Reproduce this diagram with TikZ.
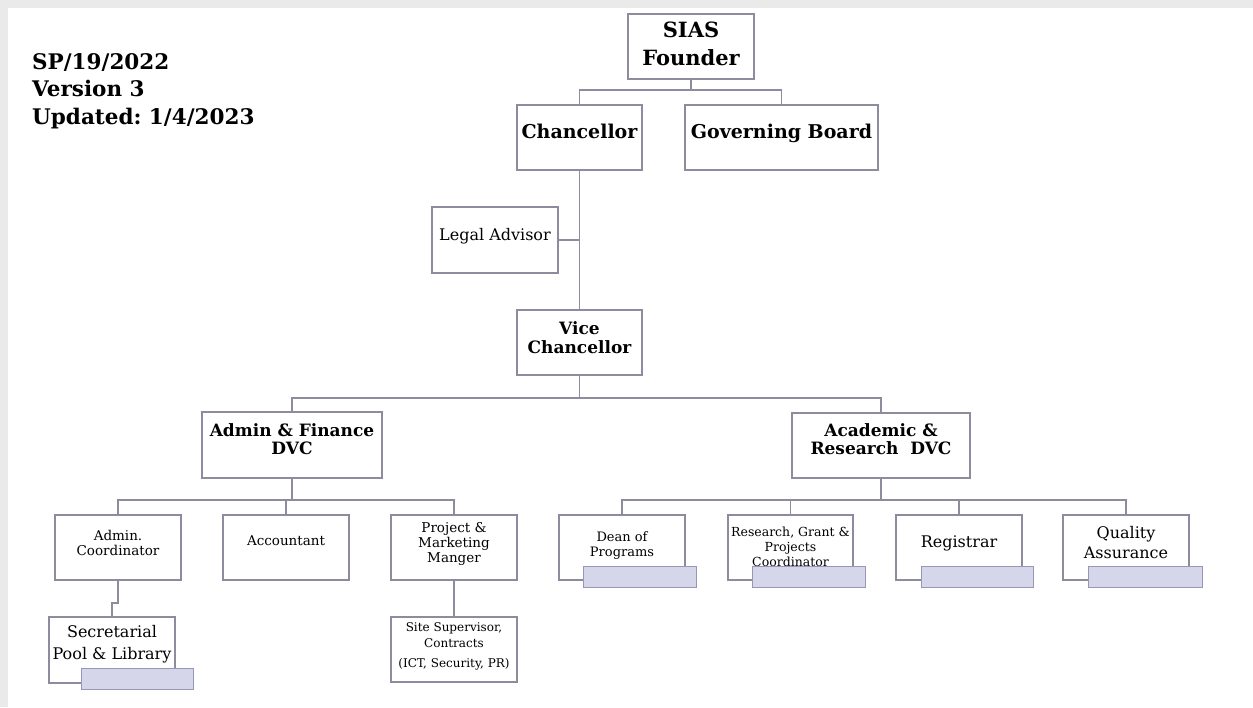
\documentclass[tikz,border=0pt]{standalone}
\usepackage{fontspec}
\setmainfont{DejaVu Serif}
\usetikzlibrary{calc}
\definecolor{boxc}{RGB}{140,140,158}
\definecolor{tabfill}{RGB}{214,214,234}
\definecolor{tabline}{RGB}{150,150,185}
\definecolor{bgshade}{RGB}{234,234,234}
\frenchspacing
\begin{document}
\begin{tikzpicture}[x=1pt,y=-1pt,
  box/.style={draw=boxc, line width=1.2pt, fill=white, inner sep=0pt, outer sep=0pt, minimum width=#1, minimum height=65pt},
  box/.default=126pt,
  tab/.style={draw=tabline, line width=1pt, fill=tabfill, inner sep=0pt, outer sep=0pt, minimum height=21pt, minimum width=#1},
  conn/.style={draw=boxc, line width=1.2pt},
  txt/.style={inner sep=0pt, outer sep=0pt, align=center, anchor=north, text=black}]
\useasboundingbox (0,0) rectangle (1253,707);
\fill[white] (0,0) rectangle (1253,707);
\fill[bgshade] (0,0) rectangle (1253,8);
\fill[bgshade] (0,0) rectangle (8,707);

% header
\node[inner sep=0pt, anchor=north west, align=left, font=\fontsize{21.5}{27.5}\selectfont\bfseries] (hdr) at (32,53) {SP/19/2022\\Version 3\\Updated: 1/4/2023};

% boxes
\node[box] (founder) at (691,46.5) {};
\node[box=125pt] (chanc) at (579.5,137.5) {};
\node[box=193pt] (board) at (781.5,137.5) {};
\node[box, minimum height=66pt] (legal) at (495,240) {};
\node[box=125pt] (vc) at (579.5,342.5) {};
\node[box=180pt, minimum height=66pt] (afdvc) at (292,445) {};
\node[box=178pt] (ardvc) at (881,445.5) {};
\node[box] (admco) at (118,547.5) {};
\node[box] (accnt) at (286,547.5) {};
\node[box] (pmm) at (454,547.5) {};
\node[box, minimum height=66pt] (secr) at (112,650) {};
\node[box] (site) at (454,649.5) {};
\node[box] (dean) at (622,547.5) {};
\node[box=125pt] (rgp) at (790.5,547.5) {};
\node[box] (reg) at (959,547.5) {};
\node[box] (qa) at (1126,547.5) {};

% texts
\node[txt, font=\fontsize{21}{28}\selectfont\bfseries] (tfounder) at ($(founder.north)+(0,8)$) {SIAS\\Founder};
\node[txt, font=\fontsize{19}{23}\selectfont\bfseries] (tchanc) at ($(chanc.north)+(0,19)$) {Chancellor};
\node[txt, font=\fontsize{19}{23}\selectfont\bfseries] (tboard) at ($(board.north)+(0,19)$) {Governing Board};
\node[txt, font=\fontsize{16}{20}\selectfont] (tlegal) at ($(legal.north)+(0,21)$) {Legal Advisor};
\node[txt, font=\fontsize{17}{19}\selectfont\bfseries] (tvc) at ($(vc.north)+(0,12)$) {Vice\\Chancellor};
\node[txt, font=\fontsize{17}{18}\selectfont\bfseries] (tafdvc) at ($(afdvc.north)+(0,12)$) {Admin \& Finance\\DVC};
\node[txt, font=\fontsize{17}{17.5}\selectfont\bfseries] (tardvc) at ($(ardvc.north)+(0,11)$) {Academic \&\\Research~~DVC};
\node[txt, font=\fontsize{13.5}{15}\selectfont] (tadmco) at ($(admco.north)+(0,15)$) {Admin.\\Coordinator};
\node[txt, font=\fontsize{13.5}{15}\selectfont] (taccnt) at ($(accnt.north)+(0,21)$) {Accountant};
\node[txt, font=\fontsize{13.5}{15}\selectfont] (tpmm) at ($(pmm.north)+(0,7)$) {Project \&\\Marketing\\Manger};
\node[txt, font=\fontsize{16}{22}\selectfont] (tsecr) at ($(secr.north)+(0,8)$) {Secretarial\\Pool \& Library};
\node[txt, font=\fontsize{12}{15.5}\selectfont] (tsite) at ($(site.north)+(0,6)$) {Site Supervisor,\\Contracts\\[5pt](ICT, Security, PR)};
\node[txt, font=\fontsize{13}{15}\selectfont] (tdean) at ($(dean.north)+(0,17)$) {Dean of\\Programs};
\node[txt, font=\fontsize{12.5}{15}\selectfont] (trgp) at ($(rgp.north)+(0,12)$) {Research, Grant \&\\Projects\\Coordinator};
\node[txt, font=\fontsize{16}{20}\selectfont] (treg) at ($(reg.north)+(0,21)$) {Registrar};
\node[txt, font=\fontsize{16}{20}\selectfont] (tqa) at ($(qa.north)+(0,11)$) {Quality\\Assurance};

% tabs
\node[tab=112pt] (secrtab) at (137,678.5) {};
\node[tab=113pt] (deantab) at (639.5,576.5) {};
\node[tab=113pt] (rgptab) at (808.5,576.5) {};
\node[tab=112pt] (regtab) at (977,576.5) {};
\node[tab=114pt] (qatab) at (1145,576.5) {};

% connectors
\coordinate (j1) at (691,90);
\draw[conn] (founder.south) -- (j1);
\draw[conn] (chanc.north) |- (j1) -| (board.north);
\draw[conn] (chanc.south) -- (vc.north);
\draw[conn] (legal.east) -- (legal.east -| chanc.south);
\coordinate (j2) at (579.5,398);
\draw[conn] (vc.south) -- (j2);
\draw[conn] (afdvc.north) |- (j2) -| (ardvc.north);
\coordinate (j3) at (292,500);
\draw[conn] (afdvc.south) -- (j3);
\draw[conn] (admco.north) |- (j3) -| (pmm.north);
\draw[conn] (accnt.north) -- (accnt.north |- j3);
\coordinate (j4) at (881,500);
\draw[conn] (ardvc.south) -- (j4);
\draw[conn] (dean.north) |- (j4) -| (qa.north);
\draw[conn] (rgp.north) -- (rgp.north |- j4);
\draw[conn] (reg.north) -- (reg.north |- j4);
\coordinate (k1) at (118,603);
\coordinate (k2) at (112,603);
\draw[conn] (admco.south) -- (k1) -- (k2) -- (secr.north);
\draw[conn] (pmm.south) -- (site.north);
\end{tikzpicture}
\end{document}
